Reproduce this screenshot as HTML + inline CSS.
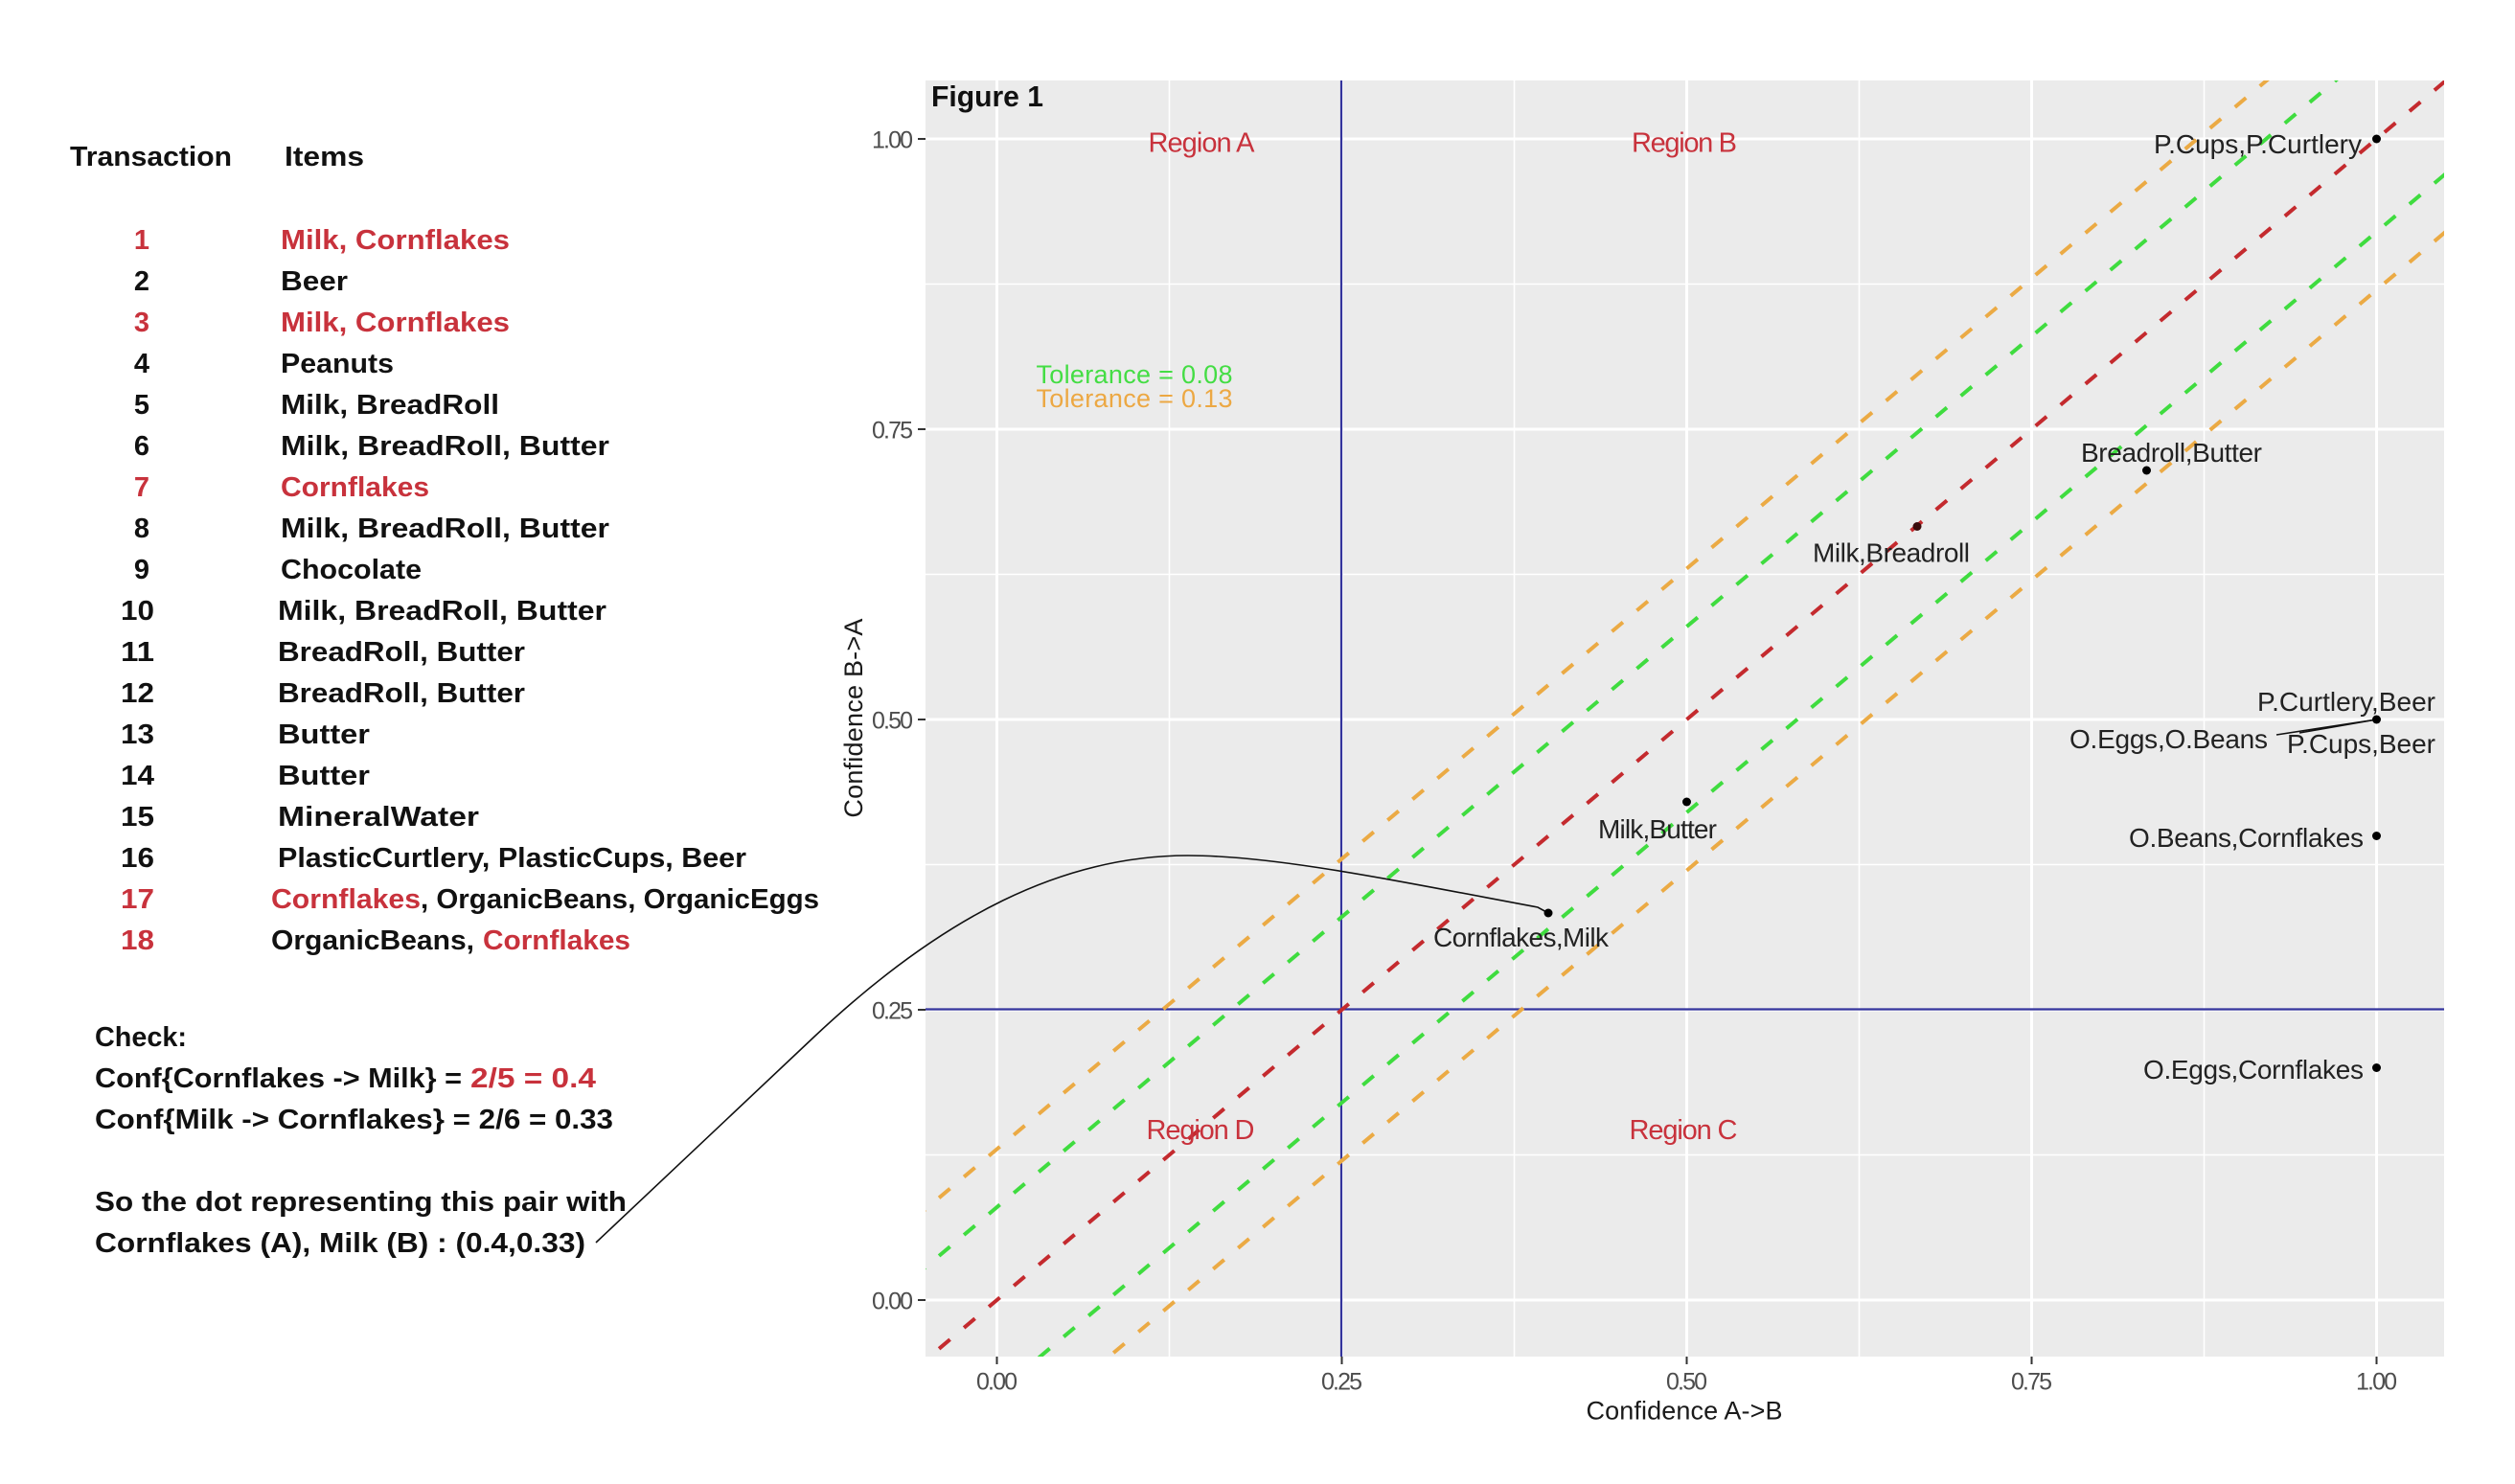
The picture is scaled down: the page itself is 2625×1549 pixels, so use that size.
<!DOCTYPE html>
<html>
<head>
<meta charset="utf-8">
<style>
html,body{margin:0;padding:0;background:#fff;}
svg{display:block;}
.l{font-family:"Liberation Sans",Arial,sans-serif;font-weight:bold;font-size:29px;fill:#111;}
.r{fill:#c8323c;}
.t{font-family:"Liberation Sans",Arial,sans-serif;font-size:28px;fill:#222;}
.tk{font-family:"Liberation Sans",Arial,sans-serif;font-size:25px;fill:#4d4d4d;}
.rg{font-family:"Liberation Sans",Arial,sans-serif;font-size:29px;fill:#c8323c;}
</style>
</head>
<body>
<svg width="2625" height="1549" viewBox="0 0 2625 1549" xmlns="http://www.w3.org/2000/svg">
<rect width="2625" height="1549" fill="#fff"/>

<!-- LEFT TABLE -->
<text class="l" x="73" y="173" textLength="169" lengthAdjust="spacingAndGlyphs">Transaction</text>
<text class="l" x="297" y="173" textLength="83" lengthAdjust="spacingAndGlyphs">Items</text>

<text class="l r" x="148" y="260" text-anchor="middle">1</text>
<text class="l r" x="293" y="260" textLength="239" lengthAdjust="spacingAndGlyphs">Milk, Cornflakes</text>
<text class="l" x="148" y="303" text-anchor="middle">2</text>
<text class="l" x="293" y="303" textLength="70" lengthAdjust="spacingAndGlyphs">Beer</text>
<text class="l r" x="148" y="346" text-anchor="middle">3</text>
<text class="l r" x="293" y="346" textLength="239" lengthAdjust="spacingAndGlyphs">Milk, Cornflakes</text>
<text class="l" x="148" y="389" text-anchor="middle">4</text>
<text class="l" x="293" y="389" textLength="118" lengthAdjust="spacingAndGlyphs">Peanuts</text>
<text class="l" x="148" y="432" text-anchor="middle">5</text>
<text class="l" x="293" y="432" textLength="228" lengthAdjust="spacingAndGlyphs">Milk, BreadRoll</text>
<text class="l" x="148" y="475" text-anchor="middle">6</text>
<text class="l" x="293" y="475" textLength="343" lengthAdjust="spacingAndGlyphs">Milk, BreadRoll, Butter</text>
<text class="l r" x="148" y="518" text-anchor="middle">7</text>
<text class="l r" x="293" y="518" textLength="155" lengthAdjust="spacingAndGlyphs">Cornflakes</text>
<text class="l" x="148" y="561" text-anchor="middle">8</text>
<text class="l" x="293" y="561" textLength="343" lengthAdjust="spacingAndGlyphs">Milk, BreadRoll, Butter</text>
<text class="l" x="148" y="604" text-anchor="middle">9</text>
<text class="l" x="293" y="604" textLength="147" lengthAdjust="spacingAndGlyphs">Chocolate</text>
<text class="l" x="126" y="647" textLength="35" lengthAdjust="spacingAndGlyphs">10</text>
<text class="l" x="290" y="647" textLength="343" lengthAdjust="spacingAndGlyphs">Milk, BreadRoll, Butter</text>
<text class="l" x="126" y="690" textLength="35" lengthAdjust="spacingAndGlyphs">11</text>
<text class="l" x="290" y="690" textLength="258" lengthAdjust="spacingAndGlyphs">BreadRoll, Butter</text>
<text class="l" x="126" y="733" textLength="35" lengthAdjust="spacingAndGlyphs">12</text>
<text class="l" x="290" y="733" textLength="258" lengthAdjust="spacingAndGlyphs">BreadRoll, Butter</text>
<text class="l" x="126" y="776" textLength="35" lengthAdjust="spacingAndGlyphs">13</text>
<text class="l" x="290" y="776" textLength="96" lengthAdjust="spacingAndGlyphs">Butter</text>
<text class="l" x="126" y="819" textLength="35" lengthAdjust="spacingAndGlyphs">14</text>
<text class="l" x="290" y="819" textLength="96" lengthAdjust="spacingAndGlyphs">Butter</text>
<text class="l" x="126" y="862" textLength="35" lengthAdjust="spacingAndGlyphs">15</text>
<text class="l" x="290" y="862" textLength="210" lengthAdjust="spacingAndGlyphs">MineralWater</text>
<text class="l" x="126" y="905" textLength="35" lengthAdjust="spacingAndGlyphs">16</text>
<text class="l" x="290" y="905" textLength="489" lengthAdjust="spacingAndGlyphs">PlasticCurtlery, PlasticCups, Beer</text>
<text class="l r" x="126" y="948" textLength="35" lengthAdjust="spacingAndGlyphs">17</text>
<text class="l r" x="283" y="948" textLength="156" lengthAdjust="spacingAndGlyphs">Cornflakes</text>
<text class="l" x="439" y="948" textLength="416" lengthAdjust="spacingAndGlyphs">, OrganicBeans, OrganicEggs</text>
<text class="l r" x="126" y="991" textLength="35" lengthAdjust="spacingAndGlyphs">18</text>
<text class="l" x="283" y="991" textLength="212" lengthAdjust="spacingAndGlyphs">OrganicBeans,</text>
<text class="l r" x="504" y="991" textLength="154" lengthAdjust="spacingAndGlyphs">Cornflakes</text>

<text class="l" x="99" y="1092" textLength="96" lengthAdjust="spacingAndGlyphs">Check:</text>
<text class="l" x="99" y="1135" textLength="383" lengthAdjust="spacingAndGlyphs">Conf{Cornflakes -&gt; Milk} =</text>
<text class="l r" x="491" y="1135" textLength="131" lengthAdjust="spacingAndGlyphs">2/5 = 0.4</text>
<text class="l" x="99" y="1178" textLength="541" lengthAdjust="spacingAndGlyphs">Conf{Milk -&gt; Cornflakes} = 2/6 = 0.33</text>
<text class="l" x="99" y="1264" textLength="555" lengthAdjust="spacingAndGlyphs">So the dot representing this pair with</text>
<text class="l" x="99" y="1307" textLength="512" lengthAdjust="spacingAndGlyphs">Cornflakes (A), Milk (B) : (0.4,0.33)</text>

<!-- PANEL -->
<defs>
<clipPath id="pc"><rect x="966" y="84" width="1585" height="1332"/></clipPath>
</defs>
<rect x="966" y="84" width="1585" height="1332" fill="#ebebeb"/>
<g stroke="#ffffff" stroke-width="1.6">
<line x1="1220.5" y1="84" x2="1220.5" y2="1416"/>
<line x1="1580.5" y1="84" x2="1580.5" y2="1416"/>
<line x1="1940.5" y1="84" x2="1940.5" y2="1416"/>
<line x1="2300.5" y1="84" x2="2300.5" y2="1416"/>
<line x1="966" y1="1205.5" x2="2551" y2="1205.5"/>
<line x1="966" y1="902.5" x2="2551" y2="902.5"/>
<line x1="966" y1="599.5" x2="2551" y2="599.5"/>
<line x1="966" y1="296.5" x2="2551" y2="296.5"/>
</g>
<g stroke="#ffffff" stroke-width="3">
<line x1="1040.5" y1="84" x2="1040.5" y2="1416"/>
<line x1="1400.5" y1="84" x2="1400.5" y2="1416"/>
<line x1="1760.5" y1="84" x2="1760.5" y2="1416"/>
<line x1="2120.5" y1="84" x2="2120.5" y2="1416"/>
<line x1="2480.5" y1="84" x2="2480.5" y2="1416"/>
<line x1="966" y1="1357" x2="2551" y2="1357"/>
<line x1="966" y1="1054" x2="2551" y2="1054"/>
<line x1="966" y1="751" x2="2551" y2="751"/>
<line x1="966" y1="448" x2="2551" y2="448"/>
<line x1="966" y1="145" x2="2551" y2="145"/>
</g>

<!-- region/ blue lines -->
<g stroke="#34349c" stroke-width="2.2">
<line x1="1400" y1="84" x2="1400" y2="1416"/>
<line x1="966" y1="1053.5" x2="2551" y2="1053.5"/>
</g>

<!-- dashed tolerance lines -->
<g clip-path="url(#pc)" stroke-width="4" stroke-dasharray="15 19" fill="none">
<line x1="954.1" y1="1272.2" x2="2566.9" y2="-85.3" stroke="#ebaa44"/>
<line x1="954.1" y1="1587.3" x2="2566.9" y2="229.9" stroke="#ebaa44"/>
<line x1="954.1" y1="1332.8" x2="2566.9" y2="-24.7" stroke="#3fdc3f"/>
<line x1="954.1" y1="1526.7" x2="2566.9" y2="169.3" stroke="#3fdc3f"/>
<line x1="954.1" y1="1429.7" x2="2566.9" y2="72.3" stroke="#c42a2e"/>
</g>

<!-- annotation texts in panel -->
<text x="972" y="111" font-family="Liberation Sans, Arial, sans-serif" font-weight="bold" font-size="31" fill="#111" textLength="117" lengthAdjust="spacingAndGlyphs">Figure 1</text>
<text class="rg" x="1254" y="158.5" text-anchor="middle" textLength="111">Region A</text>
<text class="rg" x="1758" y="158.5" text-anchor="middle" textLength="110">Region B</text>
<text class="rg" x="1757" y="1189" text-anchor="middle" textLength="113">Region C</text>
<text class="rg" x="1253" y="1189" text-anchor="middle" textLength="113">Region D</text>
<text x="1081.5" y="400" font-family="Liberation Sans, Arial, sans-serif" font-size="27" fill="#44dd44" textLength="205">Tolerance = 0.08</text>
<text x="1081.5" y="425" font-family="Liberation Sans, Arial, sans-serif" font-size="27" fill="#eca843" textLength="205">Tolerance = 0.13</text>

<!-- connector lines -->
<g stroke="#111" stroke-width="1.6" fill="none">
<line x1="2376" y1="767" x2="2480.5" y2="751"/>
<line x1="2400" y1="765" x2="2480.5" y2="751"/>
<path d="M622 1297 L850 1082 C985 955 1110 893 1240 893 C1330 893 1450 918 1605 947 L1616 953"/>
</g>

<!-- points -->
<g fill="#000">
<circle cx="2480.5" cy="145" r="4.5"/>
<circle cx="2240.5" cy="491" r="4.5"/>
<circle cx="2001" cy="549.5" r="4.5" fill="#3a0c0c"/>
<circle cx="1760.5" cy="837" r="4.5"/>
<circle cx="1616" cy="953" r="4.5"/>
<circle cx="2480.5" cy="751" r="4.5"/>
<circle cx="2480.5" cy="872.5" r="4.5"/>
<circle cx="2480.5" cy="1114.5" r="4.5"/>
</g>

<!-- point labels -->
<text class="t" x="2248" y="160" textLength="217">P.Cups,P.Curtlery</text>
<text class="t" x="2172" y="482" textLength="189">Breadroll,Butter</text>
<text class="t" x="1892" y="586.5" textLength="164">Milk,Breadroll</text>
<text class="t" x="1668" y="875" textLength="124">Milk,Butter</text>
<text class="t" x="1496" y="988" textLength="183">Cornflakes,Milk</text>
<text class="t" x="2356" y="742" textLength="186">P.Curtlery,Beer</text>
<text class="t" x="2387" y="786" textLength="155">P.Cups,Beer</text>
<text class="t" x="2160" y="781" textLength="207">O.Eggs,O.Beans</text>
<text class="t" x="2222" y="884" textLength="245">O.Beans,Cornflakes</text>
<text class="t" x="2237" y="1126" textLength="230">O.Eggs,Cornflakes</text>

<!-- axes ticks -->
<g stroke="#333" stroke-width="2">
<line x1="958" y1="145" x2="966" y2="145"/>
<line x1="958" y1="448" x2="966" y2="448"/>
<line x1="958" y1="751" x2="966" y2="751"/>
<line x1="958" y1="1054" x2="966" y2="1054"/>
<line x1="958" y1="1357" x2="966" y2="1357"/>
<line x1="1040.5" y1="1416" x2="1040.5" y2="1424"/>
<line x1="1400.5" y1="1416" x2="1400.5" y2="1424"/>
<line x1="1760.5" y1="1416" x2="1760.5" y2="1424"/>
<line x1="2120.5" y1="1416" x2="2120.5" y2="1424"/>
<line x1="2480.5" y1="1416" x2="2480.5" y2="1424"/>
</g>
<g>
<text class="tk" x="953" y="154.5" text-anchor="end" textLength="43">1.00</text>
<text class="tk" x="953" y="457.5" text-anchor="end" textLength="43">0.75</text>
<text class="tk" x="953" y="760.5" text-anchor="end" textLength="43">0.50</text>
<text class="tk" x="953" y="1063.5" text-anchor="end" textLength="43">0.25</text>
<text class="tk" x="953" y="1366.5" text-anchor="end" textLength="43">0.00</text>
<text class="tk" x="1040.5" y="1450.5" text-anchor="middle" textLength="43">0.00</text>
<text class="tk" x="1400.5" y="1450.5" text-anchor="middle" textLength="43">0.25</text>
<text class="tk" x="1760.5" y="1450.5" text-anchor="middle" textLength="43">0.50</text>
<text class="tk" x="2120.5" y="1450.5" text-anchor="middle" textLength="43">0.75</text>
<text class="tk" x="2480.5" y="1450.5" text-anchor="middle" textLength="43">1.00</text>
</g>

<!-- axis titles -->
<text x="1758" y="1481.5" text-anchor="middle" font-family="Liberation Sans, Arial, sans-serif" font-size="27" fill="#1a1a1a" textLength="205">Confidence A-&gt;B</text>
<text transform="translate(900,749.6) rotate(-90)" x="0" y="0" text-anchor="middle" font-family="Liberation Sans, Arial, sans-serif" font-size="27" fill="#1a1a1a" textLength="208">Confidence B-&gt;A</text>
</svg>
</body>
</html>
